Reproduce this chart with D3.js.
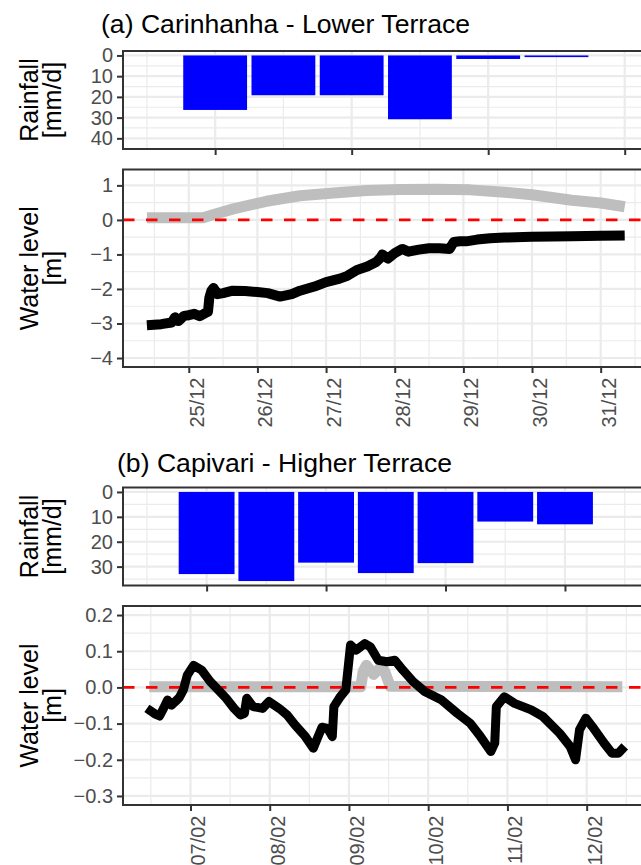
<!DOCTYPE html>
<html>
<head>
<meta charset="utf-8">
<script src="https://cdn.jsdelivr.net/npm/d3@7"></script>
<style>
  body { margin: 0; background: #fff; }
  svg { display: block; font-family: "Liberation Sans", Arial, sans-serif; }
</style>
</head>
<body>
<script>
// ---- data ----
// rainfall: daily totals, one bar per day index
const rainDaysA = [1, 2, 3, 4, 5, 6];
const rainA = [26.3, 19.2, 19.2, 30.8, 1.7, 0.8];
const rainDaysB = [1, 2, 3, 4, 5, 6, 7];
const rainB = [33.0, 35.8, 28.4, 32.6, 28.6, 11.9, 13.0];

// water level, (a) December, day of month as decimal
const obsDayA = [24.39, 24.6, 24.75, 24.8, 24.85, 24.93, 25.0, 25.08, 25.16, 25.24, 25.28, 25.30, 25.33, 25.36, 25.42, 25.5, 25.64, 25.82, 26.0, 26.15, 26.33, 26.5, 26.62, 26.83, 27.0, 27.2, 27.31, 27.45, 27.6, 27.73, 27.79, 27.82, 27.9, 28.0, 28.11, 28.2, 28.35, 28.5, 28.65, 28.8, 28.86, 28.95, 29.04, 29.2, 29.39, 29.6, 29.99, 30.3, 30.58, 31.0, 31.35];
const obsLvlA = [-3.05, -3.02, -2.97, -2.82, -2.93, -2.78, -2.76, -2.72, -2.79, -2.70, -2.66, -2.25, -2.05, -1.97, -2.15, -2.12, -2.05, -2.06, -2.09, -2.12, -2.22, -2.15, -2.05, -1.93, -1.80, -1.70, -1.62, -1.45, -1.35, -1.22, -1.10, -1.00, -1.12, -0.96, -0.84, -0.92, -0.86, -0.82, -0.82, -0.84, -0.64, -0.62, -0.62, -0.57, -0.53, -0.51, -0.49, -0.48, -0.47, -0.46, -0.45];
const simDayA = [24.39, 25.21, 25.4, 25.65, 26.13, 26.62, 27.11, 27.59, 28.08, 28.6, 29.1, 29.6, 30.0, 30.58, 31.0, 31.35];
const simLvlA = [0.06, 0.06, 0.18, 0.32, 0.54, 0.70, 0.78, 0.85, 0.88, 0.89, 0.87, 0.80, 0.73, 0.57, 0.49, 0.38];

// water level, (b) February
const obsDayB = [6.45, 6.55, 6.61, 6.66, 6.71, 6.76, 6.81, 6.86, 6.91, 6.96, 7.04, 7.14, 7.25, 7.35, 7.45, 7.55, 7.63, 7.68, 7.71, 7.79, 7.91, 7.99, 8.12, 8.22, 8.32, 8.45, 8.55, 8.61, 8.66, 8.73, 8.79, 8.81, 8.89, 8.96, 9.02, 9.09, 9.20, 9.27, 9.37, 9.48, 9.58, 9.68, 9.81, 9.96, 10.17, 10.37, 10.53, 10.66, 10.79, 10.84, 10.86, 10.96, 11.09, 11.30, 11.45, 11.66, 11.79, 11.86, 11.91, 11.99, 12.07, 12.22, 12.32, 12.40, 12.48];
const obsLvlB = [-0.058, -0.073, -0.079, -0.058, -0.035, -0.049, -0.039, -0.028, -0.007, 0.034, 0.061, 0.048, 0.016, -0.007, -0.030, -0.058, -0.076, -0.072, -0.030, -0.053, -0.058, -0.039, -0.058, -0.076, -0.104, -0.136, -0.168, -0.136, -0.110, -0.113, -0.136, -0.053, -0.026, -0.007, 0.117, 0.103, 0.121, 0.112, 0.075, 0.071, 0.075, 0.048, 0.016, -0.012, -0.035, -0.072, -0.099, -0.136, -0.177, -0.154, -0.053, -0.026, -0.044, -0.062, -0.081, -0.127, -0.163, -0.200, -0.117, -0.085, -0.108, -0.154, -0.182, -0.182, -0.163];
const simDayB = [6.48, 9.15, 9.18, 9.22, 9.31, 9.39, 9.45, 9.52, 12.45];
const simLvlB = [0.002, 0.002, 0.045, 0.061, 0.036, 0.053, 0.045, 0.003, 0.002];

// axis breaks
const rainTicksA = [0, 10, 20, 30, 40];
const rainTicksB = [0, 10, 20, 30];
const rainLimA = [0, 43];
const lvlTicksA = [-4, -3, -2, -1, 0, 1];
const lvlLimA = [-4, 1.2];
const lvlTicksB = [-0.3, -0.2, -0.1, 0, 0.1, 0.2];
const lvlLimB = [-0.3, 0.2];

const titles = ["(a) Carinhanha - Lower Terrace", "(b) Capivari - Higher Terrace"];

// ---- layout ----
const W = 641, H = 865;
const left = 123, right = 648.6;
const GRID = "#ebebeb", INK = "#333333", TXT = "#4d4d4d";

const svg = d3.select("body").append("svg")
    .attr("width", W)
    .attr("height", H);

function expand(lo, hi) {
    const d = (hi - lo) * 0.05;
    return [lo - d, hi + d];
}
const decDate = d => new Date(Date.UTC(2019, 11, 1) + (d - 1) * 864e5);
const febDate = d => new Date(Date.UTC(2020, 1, 1) + (d - 1) * 864e5);

function grid(g, x, y, top, bottom, xMaj, xMin, yMaj, yMin) {
    g.append("rect").attr("x", left).attr("y", top)
        .attr("width", right - left).attr("height", bottom - top).attr("fill", "#fff");
    const gl = g.append("g");
    gl.selectAll(".vmin").data(xMin).enter().append("line")
        .attr("x1", d => x(d)).attr("x2", d => x(d)).attr("y1", top).attr("y2", bottom)
        .attr("stroke", GRID).attr("stroke-width", 1.2);
    gl.selectAll(".hmin").data(yMin).enter().append("line")
        .attr("x1", left).attr("x2", right).attr("y1", d => y(d)).attr("y2", d => y(d))
        .attr("stroke", GRID).attr("stroke-width", 1.2);
    gl.selectAll(".vmaj").data(xMaj).enter().append("line")
        .attr("x1", d => x(d)).attr("x2", d => x(d)).attr("y1", top).attr("y2", bottom)
        .attr("stroke", GRID).attr("stroke-width", 2.2);
    gl.selectAll(".hmaj").data(yMaj).enter().append("line")
        .attr("x1", left).attr("x2", right).attr("y1", d => y(d)).attr("y2", d => y(d))
        .attr("stroke", GRID).attr("stroke-width", 2.2);
}

function frame(g, top, bottom) {
    g.append("rect").attr("x", left).attr("y", top)
        .attr("width", right - left).attr("height", bottom - top)
        .attr("fill", "none").attr("stroke", INK).attr("stroke-width", 2);
}

function styleAxis(a) {
    a.select(".domain").remove();
    a.selectAll(".tick line").attr("stroke", INK).attr("stroke-width", 2);
    a.selectAll(".tick text").attr("fill", TXT).style("font-size", "20px");
}

function leftAxis(g, y, ticks, fmt) {
    const a = g.append("g").attr("transform", `translate(${left},0)`)
        .call(d3.axisLeft(y).tickValues(ticks).tickSize(6).tickPadding(4).tickFormat(fmt));
    styleAxis(a);
}

function bottomAxis(g, x, ticks, bottom, fmt) {
    const a = g.append("g").attr("transform", `translate(0,${bottom})`)
        .call(d3.axisBottom(x).tickValues(ticks).tickSize(6).tickFormat(fmt || ""));
    styleAxis(a);
    if (fmt) {
        a.selectAll(".tick text")
            .attr("transform", "rotate(-90)")
            .attr("x", -10.5).attr("y", 14.5).attr("dy", null)
            .attr("text-anchor", "end");
    }
}

function yTitle(g, lines, cy) {
    const t = g.append("text")
        .attr("transform", `translate(38,${cy}) rotate(-90)`)
        .attr("text-anchor", "middle")
        .style("font-size", "25px").attr("fill", "#000");
    lines.forEach((s, i) => t.append("tspan").attr("x", 0).attr("y", i * 23).text(s));
}

function rainPanel(g, days, vals, nDays, lim, ticks, top, bottom) {
    const x = d3.scaleLinear().domain(expand(0, nDays)).range([left, right]);
    const y = d3.scaleLinear().domain(expand(lim[0], lim[1])).range([top, bottom]);
    const xMaj = d3.range(1, nDays + 1, 2);
    const xMin = d3.range(0, nDays + 1, 2);
    const yMin = ticks.map(t => t + 5).filter(t => t < y.domain()[1]);
    grid(g, x, y, top, bottom, xMaj, xMin, ticks, yMin);
    const bw = 0.935;
    g.append("g").selectAll("rect").data(days).enter().append("rect")
        .attr("x", (d) => x(d - bw / 2))
        .attr("width", x(bw) - x(0))
        .attr("y", y(0))
        .attr("height", (d, i) => y(vals[i]) - y(0))
        .attr("fill", "#0000ff");
    frame(g, top, bottom);
    leftAxis(g, y, ticks, d3.format("d"));
    bottomAxis(g, x, xMaj, bottom, null);
    yTitle(g, ["Rainfall", "[mm/d]"], (top + bottom) / 2);
}

function levelPanel(g, obs, sim, lim, ticks, top, bottom, fmt, blackW) {
    const ext = d3.extent(obs, d => d.t);
    const pad = (ext[1] - ext[0]) * 0.05;
    const x = d3.scaleUtc().domain([new Date(+ext[0] - pad), new Date(+ext[1] + pad)]).range([left, right]);
    const y = d3.scaleLinear().domain(expand(lim[0], lim[1])).range([bottom, top]);
    const xMaj = x.ticks(d3.utcDay.every(1));
    // minor breaks at noon
    const xMin = d3.utcDay.range(d3.utcDay.offset(x.domain()[0], -1), x.domain()[1])
        .map(d => new Date(+d + 12 * 36e5))
        .filter(d => d >= x.domain()[0] && d <= x.domain()[1]);
    const step = ticks[1] - ticks[0];
    const yMin = ticks.map(t => t + step / 2).concat([ticks[0] - step / 2])
        .filter(t => t < y.domain()[1] && t > y.domain()[0]);
    grid(g, x, y, top, bottom, xMaj, xMin, ticks, yMin);

    const line = d3.line().x(d => x(d.t)).y(d => y(d.v));
    g.append("path").datum(sim).attr("d", line)
        .attr("fill", "none").attr("stroke", "#bebebe").attr("stroke-width", 11)
        .attr("stroke-linejoin", "round").attr("stroke-linecap", "butt");
    g.append("line").attr("x1", left).attr("x2", right).attr("y1", y(0)).attr("y2", y(0))
        .attr("stroke", "#ff0000").attr("stroke-width", 2.9).attr("stroke-dasharray", "11.5,11.5");
    g.append("path").datum(obs).attr("d", line)
        .attr("fill", "none").attr("stroke", "#000").attr("stroke-width", blackW)
        .attr("stroke-linejoin", "round").attr("stroke-linecap", "butt");

    frame(g, top, bottom);
    leftAxis(g, y, ticks, d => d3.format(fmt)(d));
    bottomAxis(g, x, xMaj, bottom, d3.utcFormat("%d/%m"));
    yTitle(g, ["Water level", "[m]"], (top + bottom) / 2);
}

function series(days, vals, toDate) {
    return days.map((d, i) => ({ t: toDate(d), v: vals[i] }));
}

// ---- (a) ----
const gA = svg.append("g");
gA.append("text").attr("x", 101).attr("y", 33).style("font-size", "26.6px").attr("fill", "#000").text(titles[0]);
rainPanel(gA, rainDaysA, rainA, 7, rainLimA, rainTicksA, 51, 149);
levelPanel(gA, series(obsDayA, obsLvlA, decDate), series(simDayA, simLvlA, decDate),
    lvlLimA, lvlTicksA, 169.5, 367, "d", 10);

// ---- (b) ----
const gB = svg.append("g");
gB.append("text").attr("x", 117).attr("y", 472).style("font-size", "26.6px").attr("fill", "#000").text(titles[1]);
rainPanel(gB, rainDaysB, rainB, 8, [0, d3.max(rainB)], rainTicksB, 487.5, 585.5);
levelPanel(gB, series(obsDayB, obsLvlB, febDate), series(simDayB, simLvlB, febDate),
    lvlLimB, lvlTicksB, 606, 805, ".1f", 9);
</script>
</body>
</html>
